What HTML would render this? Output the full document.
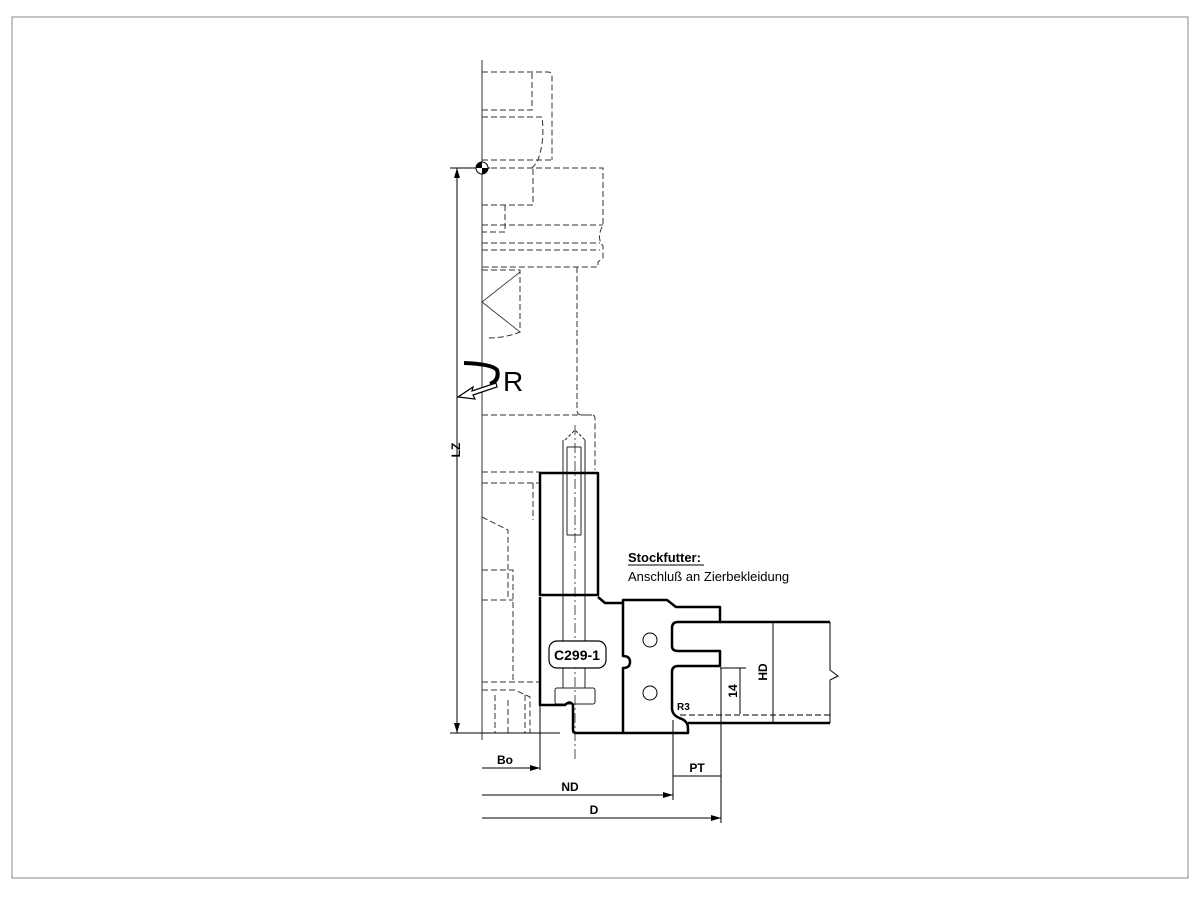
<!DOCTYPE html>
<html><head><meta charset="utf-8"><style>
html,body{margin:0;padding:0;background:#fff;}
svg{display:block;}
text{font-family:"Liberation Sans",Arial,sans-serif;font-weight:bold;fill:#000;}
</style></head><body>
<svg width="1200" height="900" viewBox="0 0 1200 900" xmlns="http://www.w3.org/2000/svg">
<rect x="12" y="17" width="1176" height="861" fill="none" stroke="#888" stroke-width="1"/>

<line x1="482" y1="60" x2="482" y2="740" stroke="#777" stroke-width="1.5"/>

<g fill="none" stroke="#333" stroke-width="1" stroke-dasharray="6,3">
<path d="M482 72 H548 Q552 72 552 76 V160"/>
<path d="M482 110 H532 V72"/>
<path d="M482 117 H542 Q545 140 538 160 Q535 165 532 168"/>
<path d="M482 160 H552"/>
<path d="M482 168 H603 V225 Q596 238 603 246 V258 L598 262 V267 H482"/>
<path d="M482 225 H603"/>
<path d="M482 205 H533 V168"/>
<path d="M505 205 V232 H482"/>
<path d="M482 243 H600 M482 250 H600"/>
<path d="M577 267 V410 Q577 415 582 415 H592 Q595 415 595 419 V470"/>
<path d="M482 415 H592"/>
<path d="M482 270 H520 V332 Q505 338 488 338"/>
<path d="M482 472 H540 M482 483 H540"/>
<path d="M533 483 V520"/>
<path d="M482 517 L508 530 V600"/>
<path d="M482 570 H513 V680 M482 600 H513"/>
<path d="M482 682 H540 M482 690 H515 L530 697 V733"/>
<path d="M495 695 V733 M508 700 V733 M525 695 V733"/>
<path d="M482 733 H560"/>
</g>
<g fill="none" stroke="#333" stroke-width="0.8">
<path d="M482 302 L520 272 M482 302 L520 332"/>
</g>

<g fill="none" stroke="#222" stroke-width="1">
<path d="M563 440 V688 M585 440 V688"/>
<path d="M567 447 V535 M581 447 V535 M567 447 H581 M567 535 H581"/>
<path d="M565 440 L575 430 L585 440" stroke-dasharray="3,2"/>
<rect x="555" y="688" width="40" height="16" rx="2"/>
<line x1="575" y1="425" x2="575" y2="760" stroke-dasharray="10,3,2,3" stroke-width="0.8"/>
</g>

<g fill="none" stroke="#000" stroke-width="2.5" stroke-linejoin="round">
<rect x="540" y="473" width="58" height="122"/>
<path d="M540 597 V705 H565 Q570 700 573 705 V730 Q573 733 576 733 H623 M598 597 L605 603 H623"/>
<path d="M623 600 H667 L676 607 H720 V622 H678 Q672 622 672 628 V646 Q672 651 678 651 H720 V666 H678 Q672 666 672 672 V708 Q672 716 682 719 Q688 722 688 728 V733 H623 V668 Q630 668 630 662 Q630 656 623 656 Z"/>
<path d="M720 622 H830 M688 723 H830"/>
</g>
<g fill="none" stroke="#000" stroke-width="1">
<circle cx="650" cy="640" r="7"/>
<circle cx="650" cy="693" r="7"/>
<path d="M830 622 V670 L838 676 L830 680 V723"/>
<line x1="680" y1="715" x2="830" y2="715" stroke-dasharray="6,3"/>
</g>

<rect x="549" y="641" width="57" height="27" rx="8" fill="#fff" stroke="#000" stroke-width="1.2"/>
<text x="577" y="660" font-size="14" text-anchor="middle">C299-1</text>

<g stroke="#000" stroke-width="1" fill="none">
<line x1="457" y1="168" x2="457" y2="733"/>
<line x1="450" y1="168" x2="490" y2="168"/>
<line x1="450" y1="733" x2="560" y2="733"/>
<line x1="773" y1="622" x2="773" y2="722"/>
<line x1="740" y1="668" x2="740" y2="714"/>
<line x1="720" y1="668" x2="746" y2="668"/>
<line x1="673" y1="720" x2="673" y2="800"/>
<line x1="721" y1="668" x2="721" y2="823"/>
<line x1="673" y1="776" x2="721" y2="776"/>
<line x1="540" y1="705" x2="540" y2="770"/>
<line x1="482" y1="768" x2="540" y2="768"/>
<line x1="482" y1="795" x2="673" y2="795"/>
<line x1="482" y1="818" x2="721" y2="818"/>
</g>
<g fill="#000">
<path d="M457 168 L454 178 L460 178 Z"/>
<path d="M457 733 L454 723 L460 723 Z"/>
<path d="M540 768 L530 765 L530 771 Z"/>
<path d="M673 795 L663 792 L663 798 Z"/>
<path d="M721 818 L711 815 L711 821 Z"/>
</g>
<circle cx="482" cy="168" r="6" fill="#fff" stroke="#000" stroke-width="1"/>
<path d="M482 162 A6 6 0 0 0 476 168 H482 Z M482 168 V174 A6 6 0 0 0 488 168 Z" fill="#000"/>

<path d="M464 363 Q492 364 497 370 Q500 380 490 384" fill="none" stroke="#000" stroke-width="4"/>
<path d="M496 383 L472 391 L473 387 L458 397 L475 399 L473 395 L497 387 Z" fill="#fff" stroke="#000" stroke-width="1.2"/>
<text x="503" y="391" font-size="28" style="font-weight:normal">R</text>

<text x="460" y="450" font-size="12" transform="rotate(-90 460 450)" text-anchor="middle">LZ</text>
<text x="505" y="764" font-size="12" text-anchor="middle">Bo</text>
<text x="570" y="791" font-size="12" text-anchor="middle">ND</text>
<text x="594" y="814" font-size="12" text-anchor="middle">D</text>
<text x="697" y="772" font-size="12" text-anchor="middle">PT</text>
<text x="677" y="710" font-size="10">R3</text>
<text x="737" y="691" font-size="12" transform="rotate(-90 737 691)" text-anchor="middle">14</text>
<text x="767" y="672" font-size="12" transform="rotate(-90 767 672)" text-anchor="middle">HD</text>
<text x="628" y="562" font-size="13">Stockfutter:</text>
<line x1="628" y1="565" x2="704" y2="565" stroke="#000" stroke-width="1"/>
<text x="628" y="581" font-size="13" style="font-weight:normal">Anschluß an Zierbekleidung</text>
</svg>
</body></html>
